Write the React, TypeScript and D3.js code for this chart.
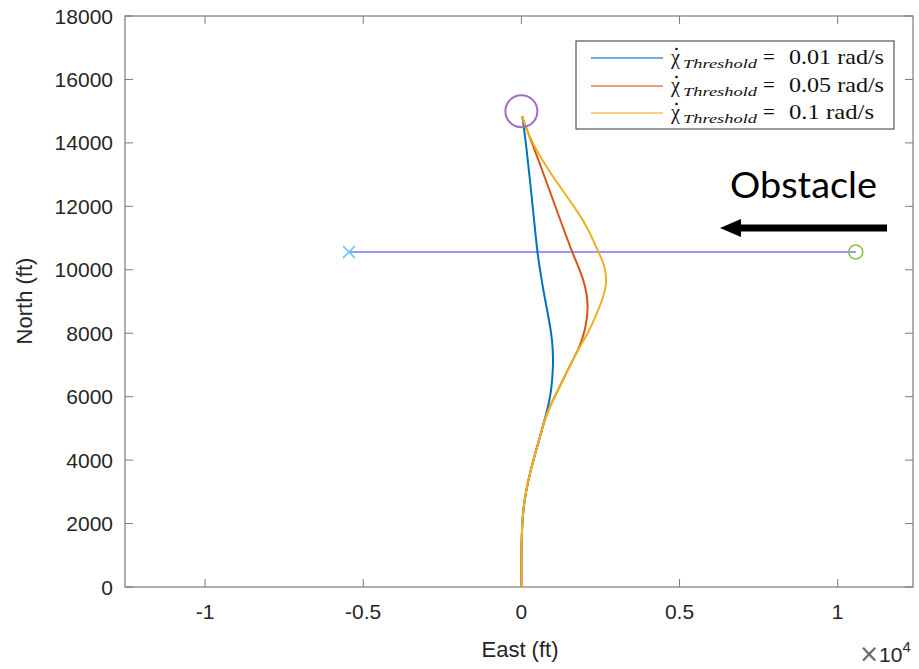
import React from 'react';
import * as d3 from 'd3';

// ---- data ----
const yTicks = [0, 2000, 4000, 6000, 8000, 10000, 12000, 14000, 16000, 18000];
const xTicks = [-10000, -5000, 0, 5000, 10000];
const xTickLabels = ['-1', '-0.5', '0', '0.5', '1'];

const blueEast = [0, 0, 0, 6, 47, 260, 560, 775, 920, 985, 1010, 975, 880, 740, 620, 500, 380, 270, 160, 50, 30];
const blueNorth = [0, 400, 800, 1480, 2520, 3590, 4630, 5420, 6000, 6600, 7200, 7800, 8400, 9100, 9800, 10560, 11790, 12830, 13870, 14700, 14830];

const redEast = [0, 0, 0, 6, 47, 260, 560, 775, 1000, 1310, 1620, 1800, 2030, 2130, 2020, 1850, 1600, 1150, 770, 390, 60, 30];
const redNorth = [0, 400, 800, 1480, 2520, 3590, 4630, 5420, 5890, 6520, 7150, 7470, 8100, 8890, 9500, 9990, 10560, 11790, 12830, 13870, 14700, 14830];

const yellowEast = [0, 0, 0, 6, 47, 260, 560, 775, 1000, 1310, 1620, 1790, 2165, 2500, 2720, 2640, 2430, 2130, 1820, 1060, 520, 205, 60, 30];
const yellowNorth = [0, 400, 800, 1480, 2520, 3590, 4630, 5420, 5890, 6520, 7150, 7470, 8100, 8890, 9520, 10150, 10560, 11250, 11790, 12830, 13680, 14310, 14700, 14830];

const seriesLabels = ['0.01 rad/s', '0.05 rad/s', '0.1 rad/s'];
const seriesColors = ['#0072BD', '#D95319', '#EDB120'];

const obstacleStartEast = 10570;
const obstacleEndEast = -5450;
const obstacleNorth = 10560;
const targetEast = 0;
const targetNorth = 15000;

// ---- layout ----
const W = 919;
const H = 669;
const L = 125, R = 913, T = 16, B = 587;

export default function App() {
  const x = d3.scaleLinear().domain([-12530, 12380]).range([L, R]);
  const y = d3.scaleLinear().domain([0, 18000]).range([B, T]);
  const line = d3
    .line<[number, number]>()
    .x((d) => x(d[0]))
    .y((d) => y(d[1]))
    .curve(d3.curveBasis);

  const series = [
    { e: blueEast, n: blueNorth },
    { e: redEast, n: redNorth },
    { e: yellowEast, n: yellowNorth },
  ];

  const axisColor = '#7a7a7a';
  const textColor = '#262626';
  const tickLen = 8;
  const sans = 'Liberation Sans, Arial, sans-serif';
  const serif = 'Liberation Serif, Times New Roman, serif';

  const legendRows = [58, 86, 113];
  const valueWidths = [95, 95, 85];

  return (
    <svg
      width={W}
      height={H}
      style={{ position: 'absolute', left: 0, top: 0, background: '#fff' }}
    >
      <rect x={0} y={0} width={W} height={H} fill="#fff" />
      {/* axes box */}
      <rect x={L} y={T} width={R - L} height={B - T} fill="none" stroke={axisColor} strokeWidth={1.2} />
      {/* y ticks */}
      {yTicks.map((t) => (
        <g key={'y' + t}>
          <line x1={L} x2={L + tickLen} y1={y(t)} y2={y(t)} stroke={axisColor} strokeWidth={1} />
          <line x1={R} x2={R - tickLen} y1={y(t)} y2={y(t)} stroke={axisColor} strokeWidth={1} />
          <text
            x={L - 12}
            y={y(t)}
            textAnchor="end"
            dominantBaseline="central"
            fontFamily={sans}
            fontSize={21}
            fill={textColor}
          >
            {t}
          </text>
        </g>
      ))}
      {/* x ticks */}
      {xTicks.map((t, i) => (
        <g key={'x' + t}>
          <line x1={x(t)} x2={x(t)} y1={B} y2={B - tickLen} stroke={axisColor} strokeWidth={1} />
          <line x1={x(t)} x2={x(t)} y1={T} y2={T + tickLen} stroke={axisColor} strokeWidth={1} />
          <text
            x={x(t)}
            y={B + 32}
            textAnchor="middle"
            fontFamily={sans}
            fontSize={21}
            fill={textColor}
          >
            {xTickLabels[i]}
          </text>
        </g>
      ))}
      {/* exponent */}
      <text x={859} y={662} fontFamily={sans} fontSize={21} fill={textColor}>
        <tspan fill="#666" fontSize={24} fontFamily="DejaVu Sans, sans-serif">×</tspan>
        <tspan>10</tspan>
        <tspan dy={-10} fontSize={15}>4</tspan>
      </text>
      {/* axis labels */}
      <text x={520} y={657} textAnchor="middle" fontFamily={sans} fontSize={22} fill={textColor}>
        East (ft)
      </text>
      <text
        transform={`translate(32,301) rotate(-90)`}
        textAnchor="middle"
        fontFamily={sans}
        fontSize={22}
        fill={textColor}
      >
        North (ft)
      </text>

      {/* obstacle path */}
      <line
        x1={x(obstacleEndEast)}
        x2={x(obstacleStartEast)}
        y1={y(obstacleNorth)}
        y2={y(obstacleNorth)}
        stroke="#7373ff"
        strokeWidth={1.6}
      />
      <g stroke="#5fc8f5" strokeWidth={1.6}>
        <line
          x1={x(obstacleEndEast) - 6}
          x2={x(obstacleEndEast) + 6}
          y1={y(obstacleNorth) - 6}
          y2={y(obstacleNorth) + 6}
        />
        <line
          x1={x(obstacleEndEast) - 6}
          x2={x(obstacleEndEast) + 6}
          y1={y(obstacleNorth) + 6}
          y2={y(obstacleNorth) - 6}
        />
      </g>
      <circle
        cx={x(obstacleStartEast)}
        cy={y(obstacleNorth)}
        r={7}
        fill="none"
        stroke="#8cc152"
        strokeWidth={1.6}
      />

      {/* trajectories */}
      {series.map((s, i) => (
        <path
          key={'s' + i}
          d={line(s.e.map((e, j) => [e, s.n[j]] as [number, number])) || ''}
          fill="none"
          stroke={seriesColors[i]}
          strokeWidth={2}
        />
      ))}

      {/* target circle */}
      <circle cx={x(targetEast)} cy={y(targetNorth)} r={16} fill="none" stroke="#a36cc4" strokeWidth={2} />

      {/* Obstacle annotation */}
      <text x={730} y={198} fontFamily="Lato, Open Sans, sans-serif" fontSize={36} fill="#000" textLength={147} lengthAdjust="spacingAndGlyphs">
        Obstacle
      </text>
      <line x1={887} x2={736} y1={228} y2={228} stroke="#000" strokeWidth={7} />
      <path d="M720,228 L741,219 L741,237 Z" fill="#000" />

      {/* legend */}
      <rect x={576} y={41} width={318} height={88} fill="#fff" stroke="#555" strokeWidth={1.2} />
      {seriesLabels.map((lab, i) => (
        <g key={'l' + i}>
          <line x1={591} x2={663} y1={legendRows[i]} y2={legendRows[i]} stroke={seriesColors[i]} strokeWidth={1.6} opacity={0.75} />
          <text x={671} y={legendRows[i] + 6} fontFamily={serif} fontSize={20} fill="#111">
            χ
          </text>
          <circle cx={676.5} cy={legendRows[i] - 9} r={1.3} fill="#111" />
          <text x={683} y={legendRows[i] + 10} fontFamily={serif} fontStyle="italic" fontSize={13} fill="#111" textLength={74} lengthAdjust="spacingAndGlyphs">
            Threshold
          </text>
          <text x={763} y={legendRows[i] + 6} fontFamily={serif} fontSize={21} fill="#111">
            =
          </text>
          <text x={789} y={legendRows[i] + 6} fontFamily={serif} fontSize={21} fill="#111" textLength={valueWidths[i]} lengthAdjust="spacingAndGlyphs">
            {lab}
          </text>
        </g>
      ))}
    </svg>
  );
}
